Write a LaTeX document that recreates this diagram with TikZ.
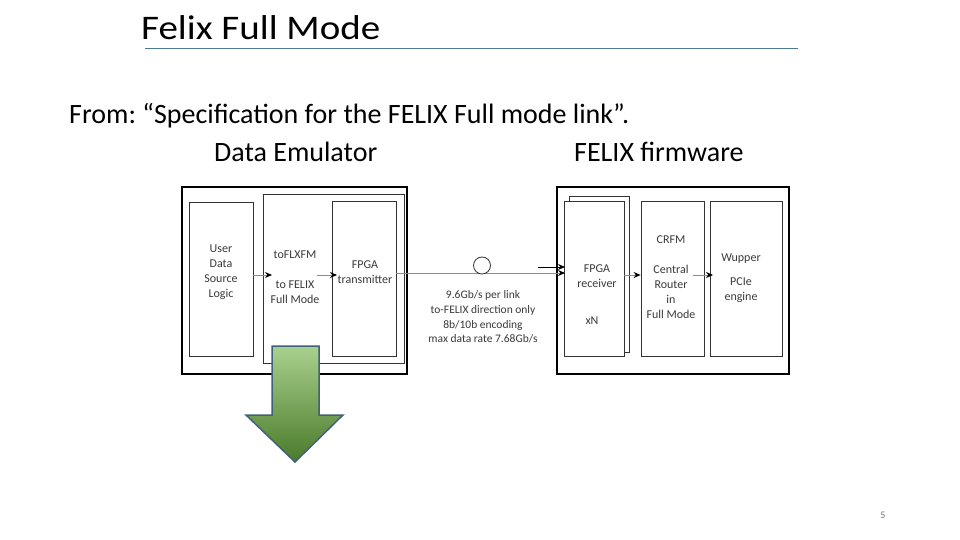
\documentclass[tikz,border=0pt]{standalone}
\usepackage{fontspec}
\usepackage{graphicx}
\setmainfont{Carlito}
\usetikzlibrary{arrows.meta}
\definecolor{ulblue}{HTML}{4F7A95}
\definecolor{txtgray}{HTML}{3A3A3A}
\definecolor{linegray}{HTML}{8C8C8C}
\definecolor{gtop}{HTML}{A9D18E}
\definecolor{gbot}{HTML}{4A7A2A}
\definecolor{gedge}{HTML}{41617A}
\frenchspacing
\begin{document}
\begin{tikzpicture}[x=1pt,y=-1pt,
  outerbox/.style={draw=black,line width=1.1pt,rectangle,inner sep=0pt},
  blockbox/.style={draw=black!80,line width=0.8pt,rectangle,inner sep=0pt,fill=white},
  blocktext/.style={font=\fontsize{12}{15}\selectfont,text=txtgray,align=center,inner sep=0pt},
  link/.style={draw=linegray,line width=0.9pt,-{Stealth[length=7pt,width=6pt,black]}},
  headtext/.style={font=\fontsize{28}{32}\selectfont,anchor=base west,inner sep=0pt}]
\useasboundingbox (0,0) rectangle (960,540);
\fill[white] (0,0) rectangle (960,540);
% title
\node[font=\fontsize{34.5}{38}\selectfont,anchor=base west,inner sep=0pt] (title) at (141,39.5) {\scalebox{1.13}[1]{Felix Full Mode}};
\coordinate (ulA) at (145,48);
\coordinate (ulB) at (798,48);
\draw[ulblue,line width=0.8pt] (ulA) -- (ulB);
\node[headtext] (from) at (69,124) {From: “Specification for the FELIX Full mode link”.};
\node[headtext] (emu) at (214,162) {Data Emulator};
\node[headtext] (fw) at (574,162) {FELIX firmware};
% left group
\node[outerbox,minimum width=225pt,minimum height=187pt] (lout) at (294.5,280.5) {};
\node[blockbox,minimum width=141pt,minimum height=169pt] (tofl) at (334,278.5) {};
\node[blockbox,minimum width=64pt,minimum height=154pt] (user) at (221,279) {};
\node[blockbox,minimum width=64pt,minimum height=155pt] (tx) at (364,278.5) {};
\node[blocktext] (usertxt) at (221,272.5) {User\\Data\\Source\\Logic};
\node[blocktext] (tofltxt1) at (295,255) {toFLXFM};
\node[blocktext] (tofltxt2) at (295,292) {to FELIX\\Full Mode};
\node[blocktext] (txtxt) at (365,272) {FPGA\\transmitter};
% right group
\node[outerbox,minimum width=232pt,minimum height=187pt] (rout) at (673,280.5) {};
\node[blockbox,minimum width=60pt,minimum height=156pt] (rxback) at (599,274) {};
\node[blockbox,minimum width=60pt,minimum height=155pt] (rx) at (594,278.5) {};
\node[blockbox,minimum width=63pt,minimum height=155pt] (crfm) at (672.5,278.5) {};
\node[blockbox,minimum width=72pt,minimum height=155pt] (wup) at (746,278.5) {};
\node[blocktext] (rxtxt) at (597,276.5) {FPGA\\receiver};
\node[blocktext] (xn) at (592,321) {xN};
\node[blocktext] (crfmtxt1) at (671,240) {CRFM};
\node[blocktext] (crfmtxt2) at (671,291.5) {Central\\Router\\in\\Full Mode};
\node[blocktext] (wuptxt1) at (741,259) {Wupper};
\node[blocktext] (wuptxt2) at (741,290.5) {PCIe\\engine};
% connectors
\coordinate (a1) at (272,275);
\draw[link] (user.east |- a1) -- (a1);
\coordinate (a2s) at (317,275);
\coordinate (a2e) at (337,275);
\draw[link] (a2s) -- (a2e);
\coordinate (l1s) at (396,273);
\coordinate (l1e) at (565,273);
\draw[link] (l1s) -- (l1e);
\coordinate (l2s) at (538,267);
\coordinate (l2e) at (565,267);
\draw[black,line width=0.8pt,-{Stealth[length=7pt,width=6pt]}] (l2s) -- (l2e);
\node[draw=black!80,line width=0.8pt,circle,minimum size=17pt,inner sep=0pt,fill=white] (ring) at (482,265.5) {};
\node[font=\fontsize{11.5}{14.7}\selectfont,text=txtgray,align=center,inner sep=0pt] (spec) at (483,317) {9.6Gb/s per link\\to-FELIX direction only\\8b/10b encoding\\max data rate 7.68Gb/s};
\coordinate (a3s) at (624,275);
\draw[link] (a3s) -- (crfm.west |- a3s);
\coordinate (a4s) at (693,275);
\coordinate (a4e) at (713,275);
\draw[link] (a4s) -- (a4e);
% green arrow
\shade[top color=gtop,bottom color=gbot,draw=gedge,line width=1.5pt,line join=miter]
  (272,346) -- (319,346) -- (319,415) -- (343,415) -- (295,462) -- (246,415) -- (272,415) -- cycle;
% page number
\node[font=\fontsize{10}{12}\selectfont,text=black!55,inner sep=0pt] (pnum) at (883,515) {5};
\end{tikzpicture}
\end{document}
